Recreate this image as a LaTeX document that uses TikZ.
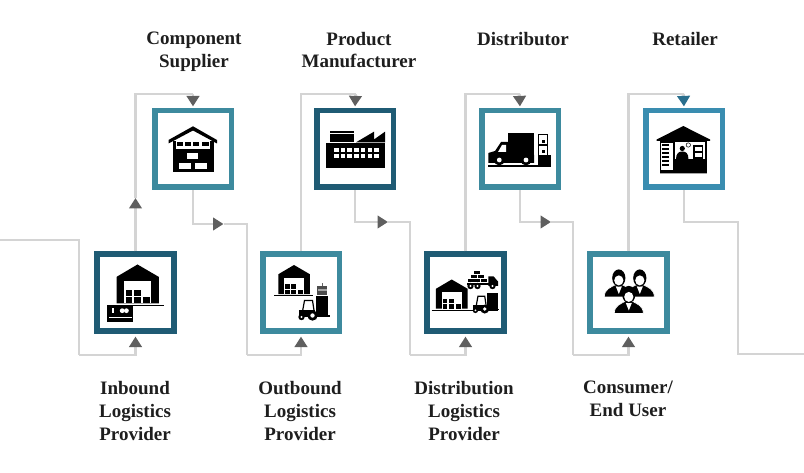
\documentclass[tikz,border=0pt]{standalone}
\usepackage{fontspec}
\setmainfont{Liberation Serif}
\usepackage{xcolor}
\usepackage{tikz}
\usetikzlibrary{arrows.meta}
\definecolor{tealBox}{HTML}{3D8A9E}
\definecolor{darkBox}{HTML}{1F5B74}
\definecolor{blueBox}{HTML}{3A8DB0}
\definecolor{lineGray}{HTML}{D4D4D4}
\definecolor{tipGray}{HTML}{5F5F5F}
\definecolor{tipBlue}{HTML}{2A6F8E}
\definecolor{labelInk}{HTML}{1E1E1E}
\tikzset{
  stageBox/.style={draw=#1, fill=white, line width=5.6pt, minimum size=76.6pt, inner sep=0pt},
  stageLabel/.style={text=labelInk, align=center, inner sep=0pt, font=\fontsize{19}{22.8}\selectfont\bfseries},
  flowLine/.style={draw=lineGray, line width=2.6pt},
  flowTip/.style={flowLine, -{Triangle[length=10.5pt,width=12.5pt,color=#1]}},
  flowTip/.default=tipGray,
  pics/depot/.style={code={
    \fill[black] (0,0) -- (21.3,12.4) -- (21.3,39) -- (-21,39) -- (-21,12.4) -- cycle;
    \fill[white] (-13.4,17) rectangle (13.8,39);
    \fill[black] (-11.5,26) rectangle (-6,32);
    \fill[black] (-3.5,26) rectangle (3.2,32);
    \fill[black] (-11.5,33) rectangle (-6,39);
    \fill[black] (-3.5,33) rectangle (3.2,39);
    \fill[black] (5.2,33) rectangle (12.5,39);
  }},
  pics/forklift/.style={code={
    \fill[black] (0,-23) rectangle (12,-4);
    \draw[black, line width=1.2pt] (-13,-8) -- (-11,-19) -- (-3,-19) -- (-1,-6);
    \fill[black] (-17,-9) rectangle (-1,-2);
    \fill[black] (0,-4) rectangle (14,-2.8);
    \fill[black] (-3,-4) circle (5.2);
    \fill[white] (-3,-4) circle (2.2);
    \fill[black] (-14,-2.5) circle (3.2);
    \fill[white] (-14,-2.5) circle (1.2);
  }},
  pics/person/.style={code={
    \fill[black, draw=white, line width=.6pt] (-14.5,19) .. controls (-14.5,11) and (-8,9.5) .. (-4,7) -- (4,7) .. controls (8,9.5) and (14.5,11) .. (14.5,19) -- cycle;
    \fill[white] (-3,8.5) -- (3,8.5) -- (0,16) -- cycle;
    \fill[black] (0,0) ellipse (6.6 and 8.6);
    \fill[white] (0,2.4) ellipse (4.6 and 5);
  }}
}
\begin{document}
\begin{tikzpicture}[x=1pt,y=-1pt]
  \useasboundingbox (0,0) rectangle (804,473);

  \coordinate (startIn) at (0,240);
  \coordinate (lowA) at (79,355);
  \coordinate (lowB) at (247,355);
  \coordinate (lowC) at (410,355);
  \coordinate (lowD) at (573,355);
  \coordinate (lowE) at (738,354);
  \coordinate (endOut) at (804,354);
  \coordinate (topA) at (193,94);
  \coordinate (topB) at (355.5,94);
  \coordinate (topC) at (519.5,94);
  \coordinate (topD) at (683.5,94);
  \coordinate (upTip) at (135.5,198);
  \coordinate (tipA) at (223.5,224);
  \coordinate (tipB) at (388,222);
  \coordinate (tipC) at (551,222);
  \coordinate (bendE) at (738,222);

  \node[stageBox=darkBox] (inbound) at (135.5,292.5) {};
  \node[stageBox=tealBox] (outbound) at (301,292.5) {};
  \node[stageBox=darkBox] (distribution) at (465.5,292.5) {};
  \node[stageBox=tealBox] (consumer) at (628.5,292.5) {};
  \node[stageBox=tealBox] (component) at (193,149) {};
  \node[stageBox=darkBox] (product) at (355,149) {};
  \node[stageBox=tealBox] (distributor) at (520,149) {};
  \node[stageBox=blueBox] (retailer) at (684,149) {};

  \draw[flowLine] (startIn) -| (lowA);
  \draw[flowTip, shorten >=3pt] (lowA) -| (inbound.south);
  \draw[flowTip] (inbound.north) -- (upTip);
  \draw[flowLine] (upTip) |- (topA);
  \draw[flowTip, shorten >=1.5pt] (topA) -- (component.north);
  \draw[flowTip] (component.south) |- (tipA);
  \draw[flowLine] (tipA) -| (lowB);
  \draw[flowTip, shorten >=3pt] (lowB) -| (outbound.south);
  \draw[flowLine] (outbound.north) |- (topB);
  \draw[flowTip, shorten >=1.5pt] (topB) -- (product.north);
  \draw[flowTip] (product.south) |- (tipB);
  \draw[flowLine] (tipB) -| (lowC);
  \draw[flowTip, shorten >=3pt] (lowC) -| (distribution.south);
  \draw[flowLine] (distribution.north) |- (topC);
  \draw[flowTip, shorten >=1.5pt] (topC) -- (distributor.north);
  \draw[flowTip] (distributor.south) |- (tipC);
  \draw[flowLine] (tipC) -| (lowD);
  \draw[flowTip, shorten >=3pt] (lowD) -| (consumer.south);
  \draw[flowLine] (consumer.north) |- (topD);
  \draw[flowTip=tipBlue, shorten >=1.5pt] (topD) -- (retailer.north);
  \draw[flowLine] (retailer.south) |- (bendE) -- (lowE) -- (endOut);

  \pic at (137.5,264.5) {depot};
  \draw[black, line width=1.2pt] (116,305.3) -- (164,305.3);
  \fill[black] (106.7,305) rectangle (133.3,322.5);
  \fill[white] (111.5,308.5) rectangle (114,313);
  \fill[white] (122.2,310.7) circle (2.4);
  \fill[white] (126.4,310.7) circle (2.4);
  \fill[white] (108.5,317) rectangle (131.5,317.8);

  \fill[black] (193,126.3) -- (217,140) -- (217,143.5) -- (193,130.5) -- (168.5,143.5) -- (168.5,140) -- cycle;
  \fill[black] (172.5,141) rectangle (176,172.5);
  \fill[black] (210,141) rectangle (213.8,172.5);
  \foreach \qx/\qw in {176.7/6,185/5.8,193.3/6,201.7/7.6}{
    \fill[black] (\qx,142.5) rectangle +(\qw,3.2);
  }
  \fill[black] (176,149.5) rectangle (210,172.5);
  \fill[white] (187.3,153.5) rectangle (198.3,159);
  \fill[white] (179.3,163) rectangle (190.7,169);
  \fill[white] (195,163) rectangle (206.7,169);

  \fill[black] (325.7,143.5) rectangle (385,168.3);
  \fill[black] (330,131) rectangle (354,133);
  \fill[black] (330,134.5) rectangle (354,142.3);
  \fill[black] (356,142.3) -- (374,131.7) -- (374,139.5) -- (385,131.7) -- (385,142.3) -- cycle;
  \foreach \px in {334,340.7,347.4,354.1,360.8,367.5,374.2}{
    \fill[white] (\px,148) rectangle +(4.6,4.2);
    \fill[white] (\px,154.2) rectangle +(4.6,4.2);
  }

  \pic[scale=.75] at (294,265) {depot};
  \draw[black, line width=1.1pt] (274,295.8) -- (313,295.8);
  \pic at (315.5,319.5) {forklift};
  \fill[black!70] (317.3,286.5) rectangle (327.3,294.8);
  \fill[black!35] (318,289) rectangle (326.6,291);
  \draw[black!60, line width=.8pt] (322.3,286.5) -- (322.3,283.5);

  \pic[scale=.75] at (451.7,279.5) {depot};
  \draw[black, line width=1.1pt] (431.7,310.3) -- (498.3,310.3);
  \pic[scale=.85] at (487.3,312.5) {forklift};
  \fill[black] (466.7,282.7) rectangle (489,285.5);
  \fill[black] (488.3,276.3) -- (493.5,276.3) -- (498,281.5) -- (498,286) -- (488.3,286) -- cycle;
  \foreach \wx in {470.5,477.5,492.5}{
    \fill[black] (\wx,286) circle (3.2);
    \fill[white] (\wx,286) circle (1.2);
  }
  \foreach \bx/\by in {467.5/278.8,474.4/278.8,481.3/278.8,471/275,477.9/275,474.4/271.2}{
    \fill[black] (\bx,\by) rectangle +(6,3.2);
  }

  \fill[black] (508.3,133.3) rectangle (534,155);
  \fill[black] (488.3,163) -- (488.3,153) -- (495,151) -- (501,142) -- (508.3,142) -- (508.3,155) -- (534,155) -- (534,163) -- cycle;
  \fill[white] (498,152) -- (502,145) -- (506,145) -- (506,152) -- cycle;
  \fill[black] (499.3,160) circle (5.4);
  \fill[white] (499.3,160) circle (2.4);
  \fill[black] (526,160) circle (5.4);
  \fill[white] (526,160) circle (2.4);
  \draw[black, line width=1.4pt] (488,166) -- (550.7,166);
  \fill[black] (537.7,155) rectangle (550.7,166);
  \draw[black, line width=.7pt] (538,134.8) rectangle (547.8,144.6);
  \draw[black, line width=.7pt] (538,145.4) rectangle (547.8,155);
  \fill[black] (541.5,140) rectangle (544.5,143);
  \fill[black] (541.5,150.5) rectangle (544.5,153.5);

  \fill[black] (683.3,126) -- (710,139.5) -- (710,141) -- (706.8,141) -- (706.8,173.3) -- (660,173.3) -- (660,141) -- (656.7,141) -- (656.7,139.5) -- cycle;
  \fill[white] (661.2,142.7) rectangle (673.3,170);
  \foreach \sy in {144.5,148.5,152.5,156.5,160.5,164}{
    \fill[black] (661.7,\sy) rectangle +(6.8,1.8);
  }
  \fill[white] (675,141.7) rectangle (705,159.3);
  \fill[black] (682.3,148.5) circle (2.6);
  \fill[black] (676,159.3) .. controls (676,153) and (679,151.5) .. (682.3,151.5) .. controls (685.6,151.5) and (688.5,153) .. (688.5,159.3) -- cycle;
  \draw[black, line width=.5pt] (688.3,145) circle (2.2);
  \fill[black] (693.3,145) rectangle (703.3,159.3);
  \fill[white] (695,147) rectangle (702,151);
  \fill[white] (695,153) rectangle (702,157.5);

  \pic at (618.8,278) {person};
  \pic at (639.8,278) {person};
  \pic at (628.8,294.5) {person};

  \node[stageLabel] (labelComponent) at (194,52) {Component\\Supplier};
  \node[stageLabel] (labelProduct) at (359,50) {Product\\Manufacturer};
  \node[stageLabel] (labelDistributor) at (523,39) {Distributor};
  \node[stageLabel] (labelRetailer) at (685,39) {Retailer};
  \node[stageLabel] (labelInbound) at (135,411) {Inbound\\Logistics\\Provider};
  \node[stageLabel] (labelOutbound) at (300,411) {Outbound\\Logistics\\Provider};
  \node[stageLabel] (labelDistribution) at (464,411) {Distribution\\Logistics\\Provider};
  \node[stageLabel] (labelConsumer) at (628,399) {Consumer/\\End User};
\end{tikzpicture}
\end{document}
